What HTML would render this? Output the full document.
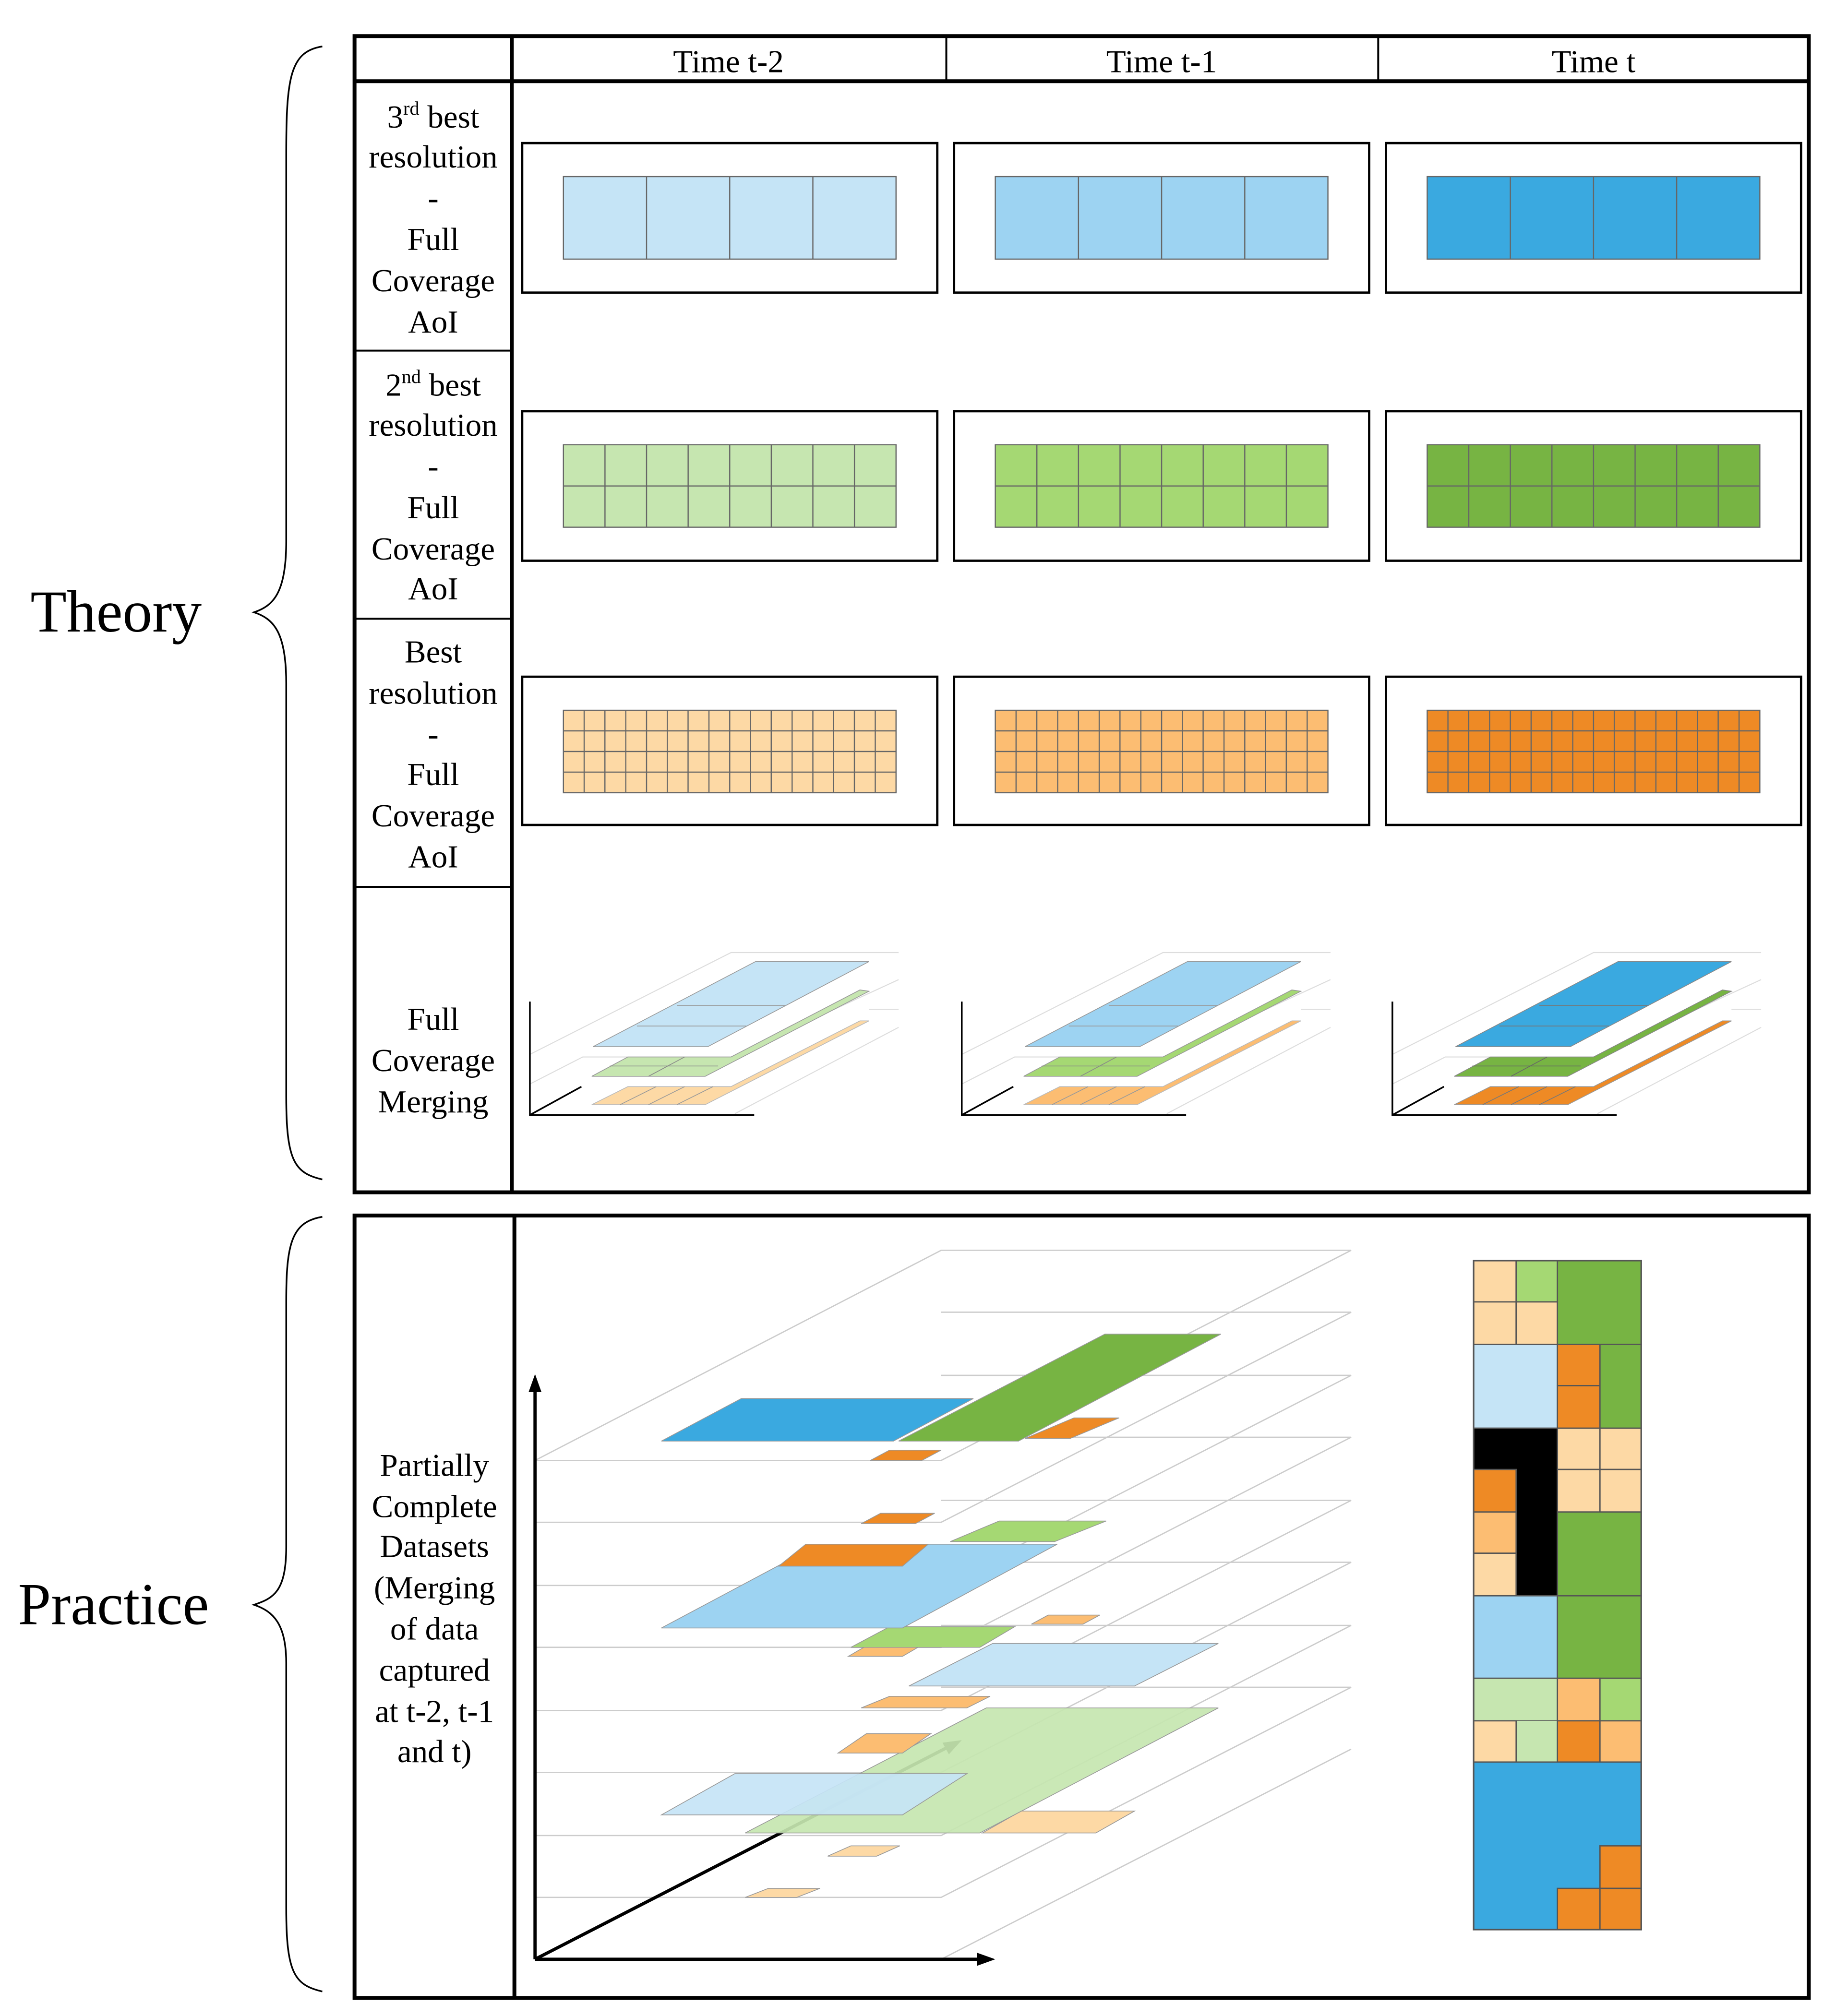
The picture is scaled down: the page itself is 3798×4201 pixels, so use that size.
<!DOCTYPE html>
<html><head><meta charset="utf-8"><style>
html,body{margin:0;padding:0;background:#fff}
svg{display:block}
text{font-family:"Liberation Serif",serif;fill:#000}
</style></head><body>
<svg width="3798" height="4201" viewBox="0 0 1414 1564" xmlns="http://www.w3.org/2000/svg">
<rect width="1414" height="1564" fill="#fff"/>
<!-- braces -->
<path d="M250 36 C225 40 222 60 222 120 L222 420 C222 460 212 470 197 475 C212 480 222 490 222 530 L222 850 C222 900 228 910 250 915" fill="none" stroke="#000" stroke-width="1.3"/>
<path d="M250 944 C226 948 222 965 222 1010 L222 1200 C222 1235 212 1240 197 1245 C212 1250 222 1260 222 1290 L222 1480 C222 1530 228 1540 250 1545" fill="none" stroke="#000" stroke-width="1.3"/>
<text x="90" y="490" font-size="46" text-anchor="middle">Theory</text>
<text x="88" y="1260" font-size="46" text-anchor="middle">Practice</text>

<!-- theory table -->
<rect x="275" y="28" width="1128" height="897" fill="none" stroke="#000" stroke-width="3"/>
<line x1="275" y1="63" x2="1403" y2="63" stroke="#000" stroke-width="3"/>
<line x1="397" y1="28" x2="397" y2="925" stroke="#000" stroke-width="3"/>
<line x1="734" y1="28" x2="734" y2="63" stroke="#000" stroke-width="1.5"/>
<line x1="1069" y1="28" x2="1069" y2="63" stroke="#000" stroke-width="1.5"/>
<line x1="275" y1="272" x2="397" y2="272" stroke="#000" stroke-width="1.5"/>
<line x1="275" y1="480" x2="397" y2="480" stroke="#000" stroke-width="1.5"/>
<line x1="275" y1="688" x2="397" y2="688" stroke="#000" stroke-width="1.5"/>
<g font-size="25" text-anchor="middle">
<text x="565" y="56">Time t-2</text><text x="901" y="56">Time t-1</text><text x="1236" y="56">Time t</text>
<text x="336" y="99">3<tspan font-size="15" dy="-10">rd</tspan><tspan dy="10"> best</tspan></text>
<text x="336" y="130">resolution</text><text x="336" y="162">-</text><text x="336" y="194">Full</text><text x="336" y="226">Coverage</text><text x="336" y="258">AoI</text>
<text x="336" y="307">2<tspan font-size="15" dy="-10">nd</tspan><tspan dy="10"> best</tspan></text>
<text x="336" y="338">resolution</text><text x="336" y="370">-</text><text x="336" y="402">Full</text><text x="336" y="434">Coverage</text><text x="336" y="465">AoI</text>
<text x="336" y="514">Best</text><text x="336" y="546">resolution</text><text x="336" y="578">-</text><text x="336" y="609">Full</text><text x="336" y="641">Coverage</text><text x="336" y="673">AoI</text>
<text x="336" y="799">Full</text><text x="336" y="831">Coverage</text><text x="336" y="863">Merging</text>
</g>

<!-- row boxes -->
<g fill="none" stroke="#000" stroke-width="1.8">
<rect x="405" y="111" width="322" height="116"/><rect x="740" y="111" width="322" height="116"/><rect x="1075" y="111" width="322" height="116"/>
<rect x="405" y="319" width="322" height="116"/><rect x="740" y="319" width="322" height="116"/><rect x="1075" y="319" width="322" height="116"/>
<rect x="405" y="525" width="322" height="115"/><rect x="740" y="525" width="322" height="115"/><rect x="1075" y="525" width="322" height="115"/>
</g>
<g stroke="#666" stroke-width="0.9">
<g><rect x="437" y="137" width="258" height="64" fill="#c5e4f6"/><path d="M501.5 137v64M566 137v64M630.5 137v64"/></g>
<g><rect x="772" y="137" width="258" height="64" fill="#9dd3f2"/><path d="M836.5 137v64M901 137v64M965.5 137v64"/></g>
<g><rect x="1107" y="137" width="258" height="64" fill="#3aa9e0"/><path d="M1171.5 137v64M1236 137v64M1300.5 137v64"/></g>
</g>
<g stroke="#666" stroke-width="0.9">
<rect x="437" y="345" width="258" height="64" fill="#c6e6b0"/>
<rect x="772" y="345" width="258" height="64" fill="#a5d873"/>
<rect x="1107" y="345" width="258" height="64" fill="#77b443"/>
<rect x="437" y="551" width="258" height="64" fill="#fdd9a5"/>
<rect x="772" y="551" width="258" height="64" fill="#fcbd72"/>
<rect x="1107" y="551" width="258" height="64" fill="#ee8a25"/>
</g>
<g stroke="#666" stroke-width="0.9">
<path d="M437 377h258M772 377h258M1107 377h258"/>
<path d="M469.25 345v64M501.5 345v64M533.75 345v64M566 345v64M598.25 345v64M630.5 345v64M662.75 345v64"/>
<path d="M804.25 345v64M836.5 345v64M868.75 345v64M901 345v64M933.25 345v64M965.5 345v64M997.75 345v64"/>
<path d="M1139.25 345v64M1171.5 345v64M1203.75 345v64M1236 345v64M1268.25 345v64M1300.5 345v64M1332.75 345v64"/>
<path d="M437 567h258M437 583h258M437 599h258M772 567h258M772 583h258M772 599h258M1107 567h258M1107 583h258M1107 599h258"/>
<path d="M453.1 551v64M469.2 551v64M485.4 551v64M501.5 551v64M517.6 551v64M533.7 551v64M549.9 551v64M566 551v64M582.1 551v64M598.2 551v64M614.4 551v64M630.5 551v64M646.6 551v64M662.7 551v64M678.9 551v64"/>
<path d="M788.1 551v64M804.2 551v64M820.4 551v64M836.5 551v64M852.6 551v64M868.7 551v64M884.9 551v64M901 551v64M917.1 551v64M933.2 551v64M949.4 551v64M965.5 551v64M981.6 551v64M997.7 551v64M1013.9 551v64"/>
<path d="M1123.1 551v64M1139.2 551v64M1155.4 551v64M1171.5 551v64M1187.6 551v64M1203.7 551v64M1219.9 551v64M1236 551v64M1252.1 551v64M1268.2 551v64M1284.4 551v64M1300.5 551v64M1316.6 551v64M1332.7 551v64M1348.9 551v64"/>
</g>

<!-- merging plots -->
<g>
<g stroke="#ddd" stroke-width="0.8" fill="none"><path d="M411 818 L567 739 H697 M411 841 L452 820 H570 M567 820 L697 760 M570 864 L697 797 M674 783 H697"/></g>
<polygon points="459,857 547,857 674,792 667,792 567,843 487,843" fill="#fdd9a5" stroke="#bbb" stroke-width="0.6"/>
<path d="M481 857L509 843M503 857L531 843M525 857L553 843" stroke="#999" stroke-width="0.6"/>
<polygon points="459,835 547,835 674,769 667,768 567,820 487,820" fill="#c6e6b0" stroke="#999" stroke-width="0.6"/>
<path d="M503 835L531 820M473 827H557" stroke="#888" stroke-width="0.6"/>
<polygon points="460,812 549,812 674,746 586,746" fill="#c5e4f6" stroke="#999" stroke-width="0.6"/>
<path d="M494 796H579M525 780H609" stroke="#999" stroke-width="0.6"/>
<path d="M411 777V865H585M411 865L451 843" fill="none" stroke="#000" stroke-width="1.3"/>
</g>
<g transform="translate(335,0)">
<g stroke="#ddd" stroke-width="0.8" fill="none"><path d="M411 818 L567 739 H697 M411 841 L452 820 H570 M567 820 L697 760 M570 864 L697 797 M674 783 H697"/></g>
<polygon points="459,857 547,857 674,792 667,792 567,843 487,843" fill="#fcbd72" stroke="#bbb" stroke-width="0.6"/>
<path d="M481 857L509 843M503 857L531 843M525 857L553 843" stroke="#999" stroke-width="0.6"/>
<polygon points="459,835 547,835 674,769 667,768 567,820 487,820" fill="#a5d873" stroke="#999" stroke-width="0.6"/>
<path d="M503 835L531 820M473 827H557" stroke="#888" stroke-width="0.6"/>
<polygon points="460,812 549,812 674,746 586,746" fill="#9dd3f2" stroke="#999" stroke-width="0.6"/>
<path d="M494 796H579M525 780H609" stroke="#999" stroke-width="0.6"/>
<path d="M411 777V865H585M411 865L451 843" fill="none" stroke="#000" stroke-width="1.3"/>
</g>
<g transform="translate(669,0)">
<g stroke="#ddd" stroke-width="0.8" fill="none"><path d="M411 818 L567 739 H697 M411 841 L452 820 H570 M567 820 L697 760 M570 864 L697 797 M674 783 H697"/></g>
<polygon points="459,857 547,857 674,792 667,792 567,843 487,843" fill="#ee8a25" stroke="#999" stroke-width="0.6"/>
<path d="M481 857L509 843M503 857L531 843M525 857L553 843" stroke="#777" stroke-width="0.6"/>
<polygon points="459,835 547,835 674,769 667,768 567,820 487,820" fill="#77b443" stroke="#888" stroke-width="0.6"/>
<path d="M503 835L531 820M473 827H557" stroke="#666" stroke-width="0.6"/>
<polygon points="460,812 549,812 674,746 586,746" fill="#3aa9e0" stroke="#888" stroke-width="0.6"/>
<path d="M494 796H579M525 780H609" stroke="#777" stroke-width="0.6"/>
<path d="M411 777V865H585M411 865L451 843" fill="none" stroke="#000" stroke-width="1.3"/>
</g>

<!-- practice -->
<rect x="275" y="943" width="1128" height="607" fill="none" stroke="#000" stroke-width="3"/>
<line x1="399" y1="943" x2="399" y2="1550" stroke="#000" stroke-width="3"/>
<g font-size="25" text-anchor="middle">
<text x="337" y="1145">Partially</text><text x="337" y="1177">Complete</text><text x="337" y="1208">Datasets</text>
<text x="337" y="1240">(Merging</text><text x="337" y="1272">of data</text><text x="337" y="1304">captured</text>
<text x="337" y="1336">at t-2, t-1</text><text x="337" y="1367">and t)</text>
</g>
<g fill="none" stroke="#ccc" stroke-width="1">
<path d="M415 1133H730L1048 970H730L415 1133"/>
<path d="M415 1181H730L1048 1018H730"/>
<path d="M415 1230H730L1048 1067H730"/>
<path d="M415 1278H730L1048 1115H730"/>
<path d="M415 1327H730L1048 1164H730"/>
<path d="M415 1375H730L1048 1212H730"/>
<path d="M415 1424H730L1048 1261H730"/>
<path d="M415 1472H730L1048 1309H730"/>
<path d="M730 1520L1048 1357"/>
</g>
<path d="M415 1520L738 1354" stroke="#000" stroke-width="2.5"/>
<polygon points="746,1350 731,1352 736,1361" fill="#000"/>
<g stroke="#999" stroke-width="0.6">
<polygon points="578,1472 618,1472 636,1465 596,1465" fill="#fdd9a5"/>
<polygon points="642,1440 680,1440 698,1432 660,1432" fill="#fdd9a5"/>
<polygon points="762,1422 850,1422 880,1405 792,1405" fill="#fdd9a5"/>
<polygon points="578,1422 760,1422 945,1325 765,1325" fill="#c6e6b0" fill-opacity="0.92"/>
<polygon points="513,1408 700,1408 750,1376 570,1376" fill="#c5e4f6" fill-opacity="0.92"/>
<polygon points="650,1360 700,1360 722,1345 672,1345" fill="#fcbd72"/>
<polygon points="668,1325 750,1325 768,1316 690,1316" fill="#fcbd72"/>
<polygon points="705,1308 880,1308 945,1275 770,1275" fill="#c5e4f6"/>
<polygon points="658,1285 700,1285 712,1278 670,1278" fill="#fcbd72"/>
<polygon points="800,1260 840,1260 853,1253 813,1253" fill="#fcbd72"/>
<polygon points="660,1278 760,1278 787,1262 690,1262" fill="#a5d873"/>
<polygon points="513,1263 700,1263 820,1198 635,1198" fill="#9dd3f2"/>
<polygon points="604,1215 700,1215 720,1198 625,1198" fill="#ee8a25"/>
<polygon points="737,1196 818,1196 858,1180 775,1180" fill="#a5d873"/>
<polygon points="668,1182 710,1182 725,1174 683,1174" fill="#ee8a25"/>
<polygon points="675,1133 715,1133 730,1125 690,1125" fill="#ee8a25"/>
<polygon points="795,1116 830,1116 868,1100 833,1100" fill="#ee8a25"/>
<polygon points="697,1118 790,1118 947,1035 857,1035" fill="#77b443"/>
<polygon points="513,1118 693,1118 755,1085 575,1085" fill="#3aa9e0"/>
</g>
<g fill="none" stroke="#000" stroke-width="2.5">
<path d="M415 1520V1075M415 1520H765"/>
</g>
<polygon points="415,1066 410,1080 420,1080" fill="#000"/>
<polygon points="772,1520 758,1515 758,1525" fill="#000"/>

<!-- mosaic -->
<g stroke="#555" stroke-width="1">
<rect x="1143" y="978" width="33" height="32" fill="#fdd9a5"/>
<rect x="1176" y="978" width="32" height="32" fill="#a5d873"/>
<rect x="1143" y="1010" width="33" height="33" fill="#fdd9a5"/>
<rect x="1176" y="1010" width="32" height="33" fill="#fdd9a5"/>
<rect x="1208" y="978" width="65" height="65" fill="#77b443"/>
<rect x="1143" y="1043" width="65" height="65" fill="#c5e4f6"/>
<rect x="1208" y="1043" width="33" height="32" fill="#ee8a25"/>
<rect x="1208" y="1075" width="33" height="33" fill="#ee8a25"/>
<rect x="1241" y="1043" width="32" height="65" fill="#77b443"/>
<rect x="1143" y="1108" width="65" height="130" fill="#000"/>
<rect x="1143" y="1140" width="33" height="33" fill="#ee8a25"/>
<rect x="1143" y="1173" width="33" height="32" fill="#fcbd72"/>
<rect x="1143" y="1205" width="33" height="33" fill="#fdd9a5"/>
<rect x="1208" y="1108" width="33" height="32" fill="#fdd9a5"/>
<rect x="1241" y="1108" width="32" height="32" fill="#fdd9a5"/>
<rect x="1208" y="1140" width="33" height="33" fill="#fdd9a5"/>
<rect x="1241" y="1140" width="32" height="33" fill="#fdd9a5"/>
<rect x="1208" y="1173" width="65" height="65" fill="#77b443"/>
<rect x="1143" y="1238" width="65" height="64" fill="#9dd3f2"/>
<rect x="1208" y="1238" width="65" height="64" fill="#77b443"/>
<path d="M1143 1302H1208V1335H1176V1367H1143Z" fill="#c6e6b0"/>
<rect x="1176" y="1335" width="32" height="32" fill="#c6e6b0" stroke="none"/>
<rect x="1143" y="1335" width="33" height="32" fill="#fdd9a5"/>
<rect x="1208" y="1302" width="33" height="33" fill="#fcbd72"/>
<rect x="1241" y="1302" width="32" height="33" fill="#a5d873"/>
<rect x="1208" y="1335" width="33" height="32" fill="#ee8a25"/>
<rect x="1241" y="1335" width="32" height="32" fill="#fcbd72"/>
<rect x="1143" y="1367" width="130" height="130" fill="#3aa9e0"/>
<rect x="1241" y="1432" width="32" height="33" fill="#ee8a25"/>
<rect x="1208" y="1465" width="33" height="32" fill="#ee8a25"/>
<rect x="1241" y="1465" width="32" height="32" fill="#ee8a25"/>
</g>
<rect x="1143" y="978" width="130" height="519" fill="none" stroke="#555" stroke-width="1.2"/>
</svg>
</body></html>
